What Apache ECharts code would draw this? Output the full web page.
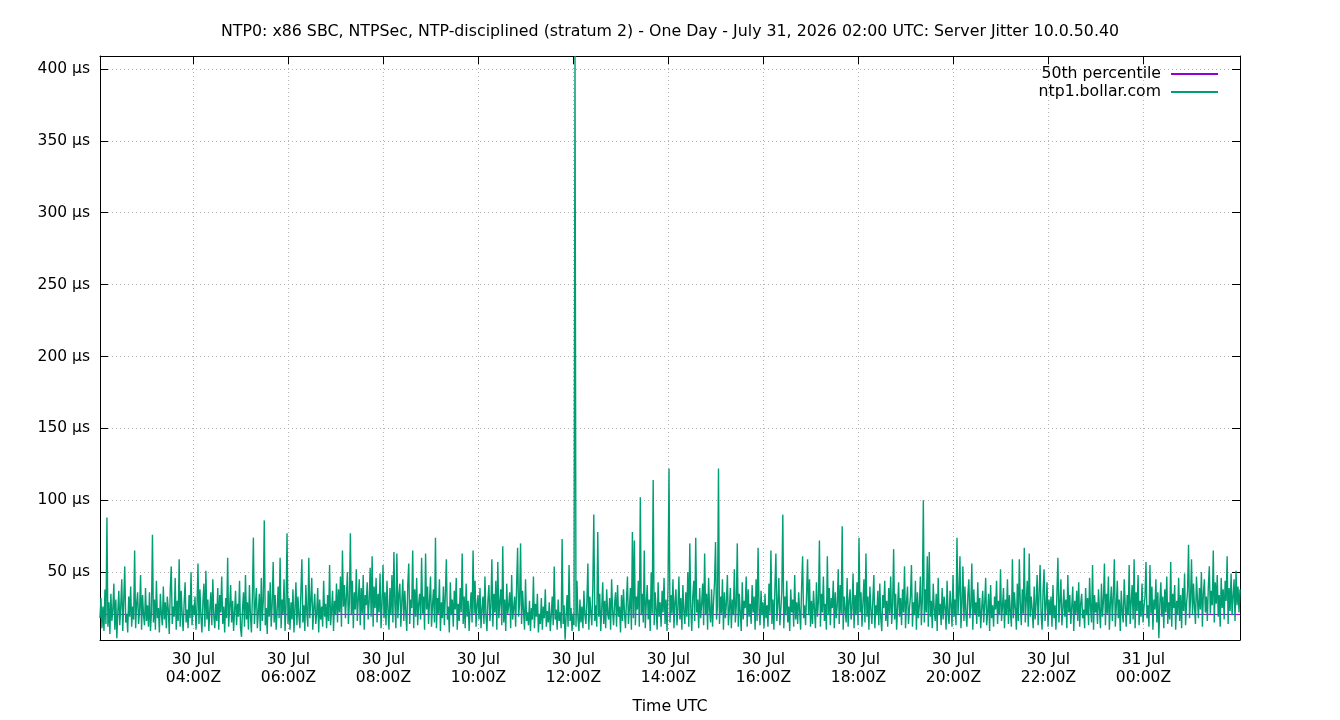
<!DOCTYPE html>
<html>
<head>
<meta charset="utf-8">
<script src="https://cdn.jsdelivr.net/npm/echarts@6/dist/echarts.min.js"></script>
<style>
html,body{margin:0;padding:0;background:#fff;}
#chart{width:1340px;height:720px;}
</style>
</head>
<body>
<div id="chart"></div>
<script>
// Time: hours since 30 Jul 00:00 UTC
const startHour = 2 + 2 / 60;
const endHour = 26 + 2 / 60;
const stepMinutes = 1.25;
const xTickHours = [4, 6, 8, 10, 12, 14, 16, 18, 20, 22, 24];
const yTicks = [50, 100, 150, 200, 250, 300, 350, 400];
const yMin = 2.8;
const yMax = 409;
const percentile50 = 20.6;
const seriesNames = ['50th percentile', 'ntp1.bollar.com'];
const jitterValues = [
18,32,11,26,9,38,14,88,12,29,7,35, 16,24,42,10,31,4,22,37,13,27,45,9, 30,54,15,21,8,33,19,40,12,26,17,65, 11,28,36,14,23,48,10,34,20,13,39,16,
27,12,36,9,22,76,15,31,10,44,18,25, 8,35,21,13,40,17,29,11,33,24,7,38, 54,14,26,19,46,10,30,16,59,12,37,21, 9,28,43,15,24,11,34,18,50,13,27,20,
33,10,25,56,14,38,19,8,29,42,12,51, 17,31,9,24,36,13,45,20,11,28,16,39, 10,34,22,47,14,26,8,32,18,60,12,25, 41,15,30,9,23,37,13,28,19,44,11,5,
24,36,12,48,17,29,10,41,20,8,33,74, 14,27,39,11,22,35,9,46,16,30,86,13, 25,7,37,19,43,12,28,57,15,34,10,23, 40,18,60,11,31,21,45,9,26,77,14,32,
10,29,17,38,8,24,43,13,33,20,11,36, 59,15,27,9,41,22,12,60,18,30,46,10, 25,35,14,21,39,8,31,17,26,12,44,19, 28,11,34,16,55,13,23,37,9,30,20,42,
15,38,22,47,12,65,26,41,18,33,50,14, 29,77,20,44,11,36,24,52,16,31,45,13, 39,21,48,10,34,27,43,17,30,53,19,61, 12,40,25,46,15,35,22,49,11,28,55,18,
36,13,44,24,10,39,20,48,15,64,27,11, 63,18,34,42,12,29,45,16,37,22,9,41, 56,14,31,25,65,11,38,19,46,13,28,35, 17,60,21,33,10,63,24,40,14,30,47,12,
27,38,15,74,11,32,21,45,9,29,18,40, 13,35,59,17,26,8,43,20,31,12,37,24, 46,10,28,16,39,22,63,14,33,11,42,19, 30,9,25,36,15,65,21,44,12,27,34,17,
39,11,24,33,14,47,20,9,30,41,16,26, 59,12,35,22,44,10,57,18,29,38,13,68, 15,31,9,42,21,27,36,11,48,17,25,33, 12,40,67,19,28,70,14,37,23,10,45,16,
22,13,30,9,25,17,47,11,28,19,35,8, 21,14,32,10,26,18,38,12,23,15,29,9, 20,33,13,54,17,24,10,31,16,22,11,73, 14,27,3,19,34,12,55,16,25,9,21,13,
409,12,44,18,9,31,15,26,11,37,20,14, 29,56,10,33,22,13,40,90,16,27,12,78, 19,35,9,24,43,14,30,11,38,21,17,32, 10,45,23,13,28,36,12,41,19,26,8,34,
16,38,22,11,30,47,14,25,39,10,78,18, 72,13,33,24,44,12,102,20,35,15,65,11, 28,41,17,31,9,50,21,114,13,36,24,10, 43,19,29,12,37,22,46,14,31,9,40,122,
15,34,21,45,11,29,38,13,24,47,17,32, 10,41,23,14,36,19,50,12,70,26,9,33, 44,16,74,22,31,11,39,18,28,42,13,63, 20,35,10,46,24,15,38,12,29,43,71,17,
26,122,14,33,21,45,10,36,18,29,48,13, 24,39,11,31,20,52,15,27,70,12,35,22, 9,43,17,30,25,47,12,38,19,28,14,41, 22,33,10,45,16,67,24,13,37,20,29,11,
35,18,27,12,42,21,65,14,31,10,39,63, 16,28,46,13,24,37,90,11,33,20,44,15, 26,9,38,22,31,12,48,17,29,14,36,23, 10,40,61,18,27,13,34,59,20,45,12,30,
14,37,24,11,43,19,30,72,12,35,22,47, 16,28,10,61,20,39,13,32,25,44,11,36, 18,27,52,14,41,21,82,10,33,24,15,46, 12,30,38,17,25,49,11,34,20,43,13,74,
22,36,12,29,45,15,63,19,33,10,40,24, 14,31,48,11,27,20,37,13,42,18,9,34, 25,44,16,30,12,39,21,47,14,28,66,17, 35,10,26,43,19,32,13,38,22,54,11,29,
40,14,25,33,55,12,29,20,44,10,36,18, 27,47,13,31,100,15,38,22,61,12,64,19, 30,11,42,24,16,35,9,46,20,28,13,39, 17,33,25,10,44,21,14,37,27,12,48,19,
31,13,74,20,36,61,11,28,54,16,40,22, 12,34,45,18,26,56,10,38,21,29,14,43, 19,32,11,25,37,15,28,46,13,22,35,9, 41,18,27,12,33,24,44,14,30,20,52,16,
26,39,11,31,20,45,14,34,22,12,59,18, 36,25,10,42,16,59,28,13,38,21,67,15, 30,44,12,63,19,33,24,11,40,17,29,48, 13,35,55,21,10,37,52,16,27,43,12,31,
20,33,12,41,18,27,10,36,60,15,29,45, 13,24,38,19,31,11,48,22,34,14,26,40, 9,30,21,37,16,43,12,28,35,18,24,11, 39,20,32,13,46,25,15,55,10,34,22,29,
14,38,24,11,42,19,30,56,13,35,21,47, 10,28,40,16,33,59,12,26,44,18,31,9, 37,22,15,45,27,12,34,20,55,14,29,41, 17,59,11,36,23,48,13,30,19,42,15,26,
33,57,18,27,12,55,21,40,10,31,24,45, 15,36,4,28,43,19,33,11,38,22,47,14, 29,17,57,12,35,25,41,10,30,20,46,16, 34,11,39,23,49,13,28,37,69,18,31,59,
20,42,26,14,47,31,18,39,24,50,12,35, 45,22,33,16,40,54,21,37,27,65,15,43, 28,48,19,34,12,46,25,38,17,44,30,61, 14,39,23,49,20,33,45,16,51,27,40,22,
38
];

const jitterData = jitterValues.map((v, i) => [startHour + i * stepMinutes / 60, v]);
const percentileData = [[startHour, percentile50], [endHour, percentile50]];

function pad(n) { return (n < 10 ? '0' : '') + n; }
function xLabel(v) {
  const h = Math.round(v);
  const day = h < 24 ? '30 Jul' : '31 Jul';
  return day + '\n' + pad(h % 24) + ':00Z';
}

const FONT = "'DejaVu Sans', sans-serif";
const gridLine = { show: true, lineStyle: { color: '#b4b4b4', width: 1, type: [1, 3] } };
const axisLine = { show: true, onZero: false, lineStyle: { color: '#000', width: 1 } };

const chart = echarts.init(document.getElementById('chart'), null, { renderer: 'canvas' });
chart.setOption({
  animation: false,
  backgroundColor: '#fff',
  title: {
    text: 'NTP0: x86 SBC, NTPSec, NTP-disciplined (stratum 2) - One Day - July 31, 2026 02:00 UTC: Server Jitter 10.0.50.40',
    left: 'center',
    top: 19,
    textStyle: { fontFamily: FONT, fontSize: 15.8, fontWeight: 'normal', color: '#000' }
  },
  legend: {
    orient: 'vertical',
    right: 121,
    top: 66,
    align: 'right',
    itemWidth: 47,
    itemHeight: 14,
    itemGap: 2,
    padding: 0,
    data: seriesNames,
    itemStyle: { opacity: 0 },
    textStyle: { fontFamily: FONT, fontSize: 15.7, color: '#000', padding: [0, 5, 0, 0] }
  },
  grid: { left: 100, right: 100, top: 56, bottom: 79, containLabel: false },
  xAxis: [
    {
      type: 'value', position: 'bottom', min: startHour, max: endHour,
      axisLine: axisLine,
      axisTick: { show: true, inside: true, length: 8, customValues: xTickHours, lineStyle: { color: '#000' } },
      axisLabel: { show: true, customValues: xTickHours, formatter: xLabel, margin: 11, lineHeight: 18,
        fontFamily: FONT, fontSize: 15.5, color: '#000' },
      splitLine: gridLine,
      name: 'Time UTC', nameLocation: 'middle', nameGap: 59,
      nameTextStyle: { fontFamily: FONT, fontSize: 15.8, color: '#000' }
    },
    {
      type: 'value', position: 'top', min: startHour, max: endHour,
      axisLine: axisLine,
      axisTick: { show: true, inside: true, length: 8, customValues: xTickHours, lineStyle: { color: '#000' } },
      axisLabel: { show: false },
      splitLine: { show: false }
    }
  ],
  yAxis: [
    {
      type: 'value', position: 'left', min: yMin, max: yMax,
      axisLine: axisLine,
      axisTick: { show: true, inside: true, length: 8, customValues: yTicks, lineStyle: { color: '#000' } },
      axisLabel: { show: true, customValues: yTicks, formatter: v => v + ' µs', margin: 10,
        fontFamily: FONT, fontSize: 15.5, color: '#000' },
      splitLine: gridLine
    },
    {
      type: 'value', position: 'right', min: yMin, max: yMax,
      axisLine: axisLine,
      axisTick: { show: true, inside: true, length: 8, customValues: yTicks, lineStyle: { color: '#000' } },
      axisLabel: { show: false },
      splitLine: { show: false }
    }
  ],
  series: [
    {
      name: seriesNames[0], type: 'line', data: percentileData,
      xAxisIndex: 0, yAxisIndex: 0,
      symbol: 'none', showSymbol: false,
      lineStyle: { color: '#9400d3', width: 1 }, itemStyle: { color: '#9400d3' }
    },
    {
      name: seriesNames[1], type: 'line', data: jitterData,
      xAxisIndex: 0, yAxisIndex: 0,
      symbol: 'none', showSymbol: false,
      lineStyle: { color: '#009e73', width: 1.4 }, itemStyle: { color: '#009e73' }
    }
  ]
});
</script>
</body>
</html>
